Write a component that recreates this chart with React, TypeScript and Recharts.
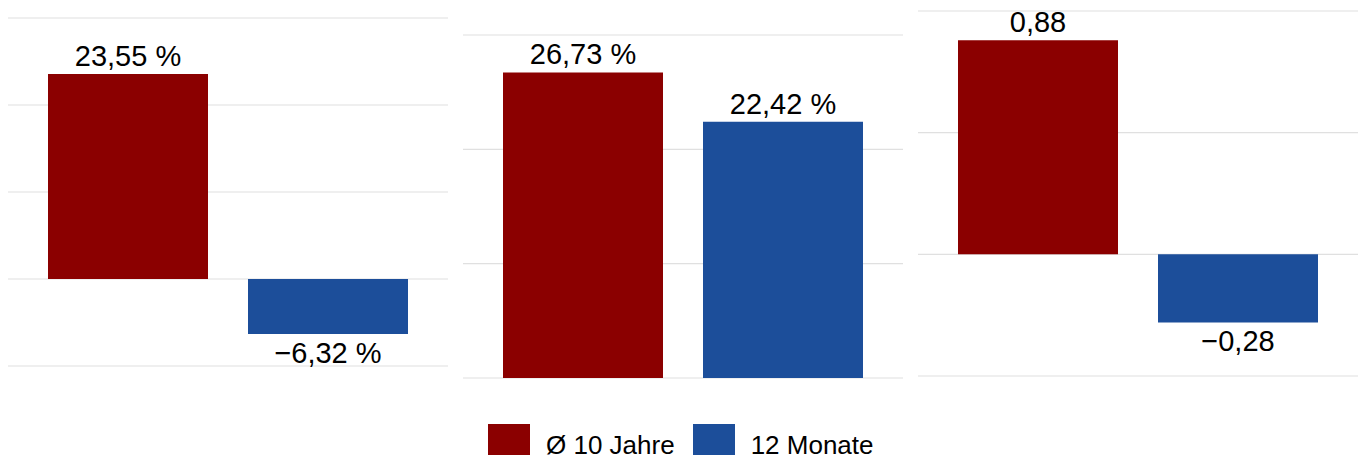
import React from "react";
import { BarChart, Bar, XAxis, YAxis, CartesianGrid, LabelList } from "recharts";

const seriesNames = ["Ø 10 Jahre", "12 Monate"];
const seriesColors = ["#8b0000", "#1c4e9a"];

const panel1Values = [23.55, -6.32];
const panel1Ticks = [-10, 0, 10, 20, 30];
const panel2Values = [26.73, 22.42];
const panel2Ticks = [0, 10, 20, 30];
const panel3Values = [0.88, -0.28];
const panel3Ticks = [-0.5, 0, 0.5, 1];

const FONT = "'Liberation Sans', Arial, Helvetica, sans-serif";

const fmt = (suffix: string) => (v: any) => {
  const n = Number(v);
  const s = Math.abs(n).toFixed(2).replace(".", ",");
  return (n < 0 ? "\u2212" : "") + s + suffix;
};

type PanelProps = {
  values: number[];
  ticks: number[];
  suffix: string;
  left: number;
  width: number;
  height: number;
  margin: { top: number; right: number; bottom: number; left: number };
};

const Panel = ({ values, ticks, suffix, left, width, height, margin }: PanelProps) => {
  const data = [{ name: "p", a: values[0], b: values[1] }];
  return (
    <div style={{ position: "absolute", left, top: 0 }}>
      <BarChart
        width={width}
        height={height}
        data={data}
        margin={margin}
        barCategoryGap={40}
        barGap={40}
      >
        <CartesianGrid vertical={false} stroke="#e0e0e0" strokeWidth={1.2} />
        <XAxis dataKey="name" hide />
        <YAxis hide domain={[ticks[0], ticks[ticks.length - 1]]} ticks={ticks} />
        <Bar dataKey="a" fill={seriesColors[0]} isAnimationActive={false}>
          <LabelList
            dataKey="a"
            position="top"
            offset={8}
            formatter={fmt(suffix)}
            style={{ fontFamily: FONT, fontSize: 29, fill: "#000" }}
          />
        </Bar>
        <Bar dataKey="b" fill={seriesColors[1]} isAnimationActive={false}>
          <LabelList
            dataKey="b"
            position="top"
            offset={8}
            formatter={fmt(suffix)}
            style={{ fontFamily: FONT, fontSize: 29, fill: "#000" }}
          />
        </Bar>
      </BarChart>
    </div>
  );
};

export default function App() {
  return (
    <div
      style={{
        position: "relative",
        width: 1368,
        height: 463,
        margin: -8,
        overflow: "hidden",
        background: "#fff",
        fontFamily: FONT,
      }}
    >
      <Panel
        values={panel1Values}
        ticks={panel1Ticks}
        suffix=" %"
        left={0}
        width={460}
        height={400}
        margin={{ top: 18, left: 8, right: 12, bottom: 34 }}
      />
      <Panel
        values={panel2Values}
        ticks={panel2Ticks}
        suffix=" %"
        left={455}
        width={460}
        height={400}
        margin={{ top: 35, left: 8, right: 12, bottom: 22 }}
      />
      <Panel
        values={panel3Values}
        ticks={panel3Ticks}
        suffix=""
        left={910}
        width={458}
        height={400}
        margin={{ top: 11, left: 8, right: 10, bottom: 24 }}
      />
      <div
        style={{
          position: "absolute",
          left: 488,
          top: 424,
          display: "flex",
          alignItems: "center",
          height: 42,
        }}
      >
        {seriesNames.map((n, i) => (
          <div key={n} style={{ display: "flex", alignItems: "center", marginRight: i === 0 ? 18 : 0 }}>
            <div style={{ width: 42, height: 42, background: seriesColors[i] }} />
            <span style={{ marginLeft: 16, fontSize: 26, color: "#000", lineHeight: "42px" }}>{n}</span>
          </div>
        ))}
      </div>
    </div>
  );
}
